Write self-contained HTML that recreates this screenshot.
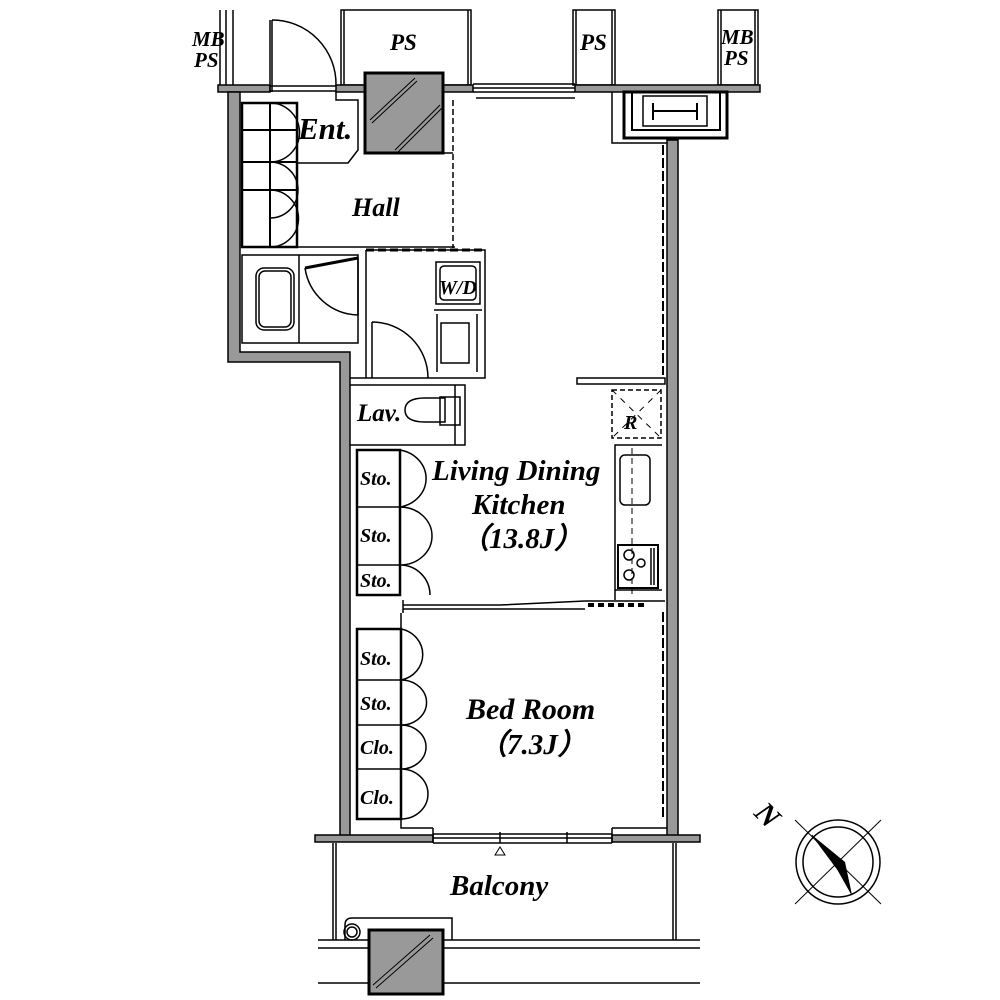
<!DOCTYPE html>
<html><head><meta charset="utf-8"><style>
html,body{margin:0;padding:0;background:#fff}
svg{display:block}
text{font-family:"Liberation Serif",serif;font-weight:bold;font-style:italic;fill:#000}
</style></head><body>
<svg width="1000" height="1000" viewBox="0 0 1000 1000" xmlns="http://www.w3.org/2000/svg">
<g fill="none" stroke="#000" stroke-width="1.5">
<path d="M220 10 V85 M233 10 V85 M226 10 V85"/>
<rect x="341" y="10" width="130" height="75"/><path d="M344 10 V85 M468 10 V85"/>
<rect x="573" y="10" width="42" height="75"/><path d="M576 10 V85 M612 10 V85"/>
<rect x="718" y="10" width="40" height="75"/><path d="M721 10 V85 M755 10 V85"/>
</g>
<g stroke="#000" stroke-width="1.5" fill="#999">
<rect x="218" y="85" width="52" height="7"/>
<rect x="336" y="85" width="30" height="7"/>
<rect x="443" y="85" width="30" height="7"/>
<rect x="575" y="85" width="185" height="7"/>
</g>
<g fill="none" stroke="#000" stroke-width="1.5">
<path d="M270 86 H336 M270 91 H336"/>
<path d="M473 84 H575 M473 88 H575 M473 92 H575 M476 98 H575"/>
<path d="M270 92 V20 M272 92 V20"/>
<path d="M272 20 A64 64 0 0 1 336 85"/>
<rect x="624" y="92" width="103" height="46" stroke-width="3"/>
<rect x="632" y="92" width="88" height="38" stroke-width="2"/>
<rect x="643" y="96" width="64" height="30"/>
<path d="M653 103 V120 M697 103 V120 M653 111 H697" stroke-width="2"/>
<path d="M612 92 V143 H667"/>
</g>
<rect x="365" y="73" width="78" height="80" fill="#999" stroke="#000" stroke-width="3"/>
<g stroke="#000" stroke-width="1"><path d="M370 120 L415 78 M372 123 L417 81 M395 150 L440 105 M397 153 L442 108"/></g>
<g fill="#999" stroke="#000" stroke-width="1.5">
<path d="M228 92 H240 V352 H350 V838 H340 V362 H228 Z"/>
<rect x="667" y="140" width="11" height="698"/>
<rect x="315" y="835" width="118" height="7"/>
<rect x="612" y="835" width="88" height="7"/>
</g>
<g fill="none" stroke="#000" stroke-width="1.5">
<path d="M433 834 H612 M433 838 H612 M433 843 H612"/>
<path d="M433 828 V843 M612 828 V843 M500 832 V843 M567 832 V843"/>
<path d="M495 855 L500 847 L505 855 Z" stroke-width="1"/>
<path d="M333 843 V940 M336 843 V940 M673 843 V940 M676 843 V940"/>
<path d="M318 940 H700 M318 948 H700 M318 983 H700"/>
<path d="M345 940 V925 Q345 918 352 918 H452 V940"/>
<circle cx="352" cy="932" r="8"/><circle cx="352" cy="932" r="5"/>
<rect x="242" y="103" width="55" height="144" stroke-width="2.5"/>
<path d="M270 103 V247 M242 130 H297 M242 162 H297 M242 190 H297" stroke-width="2"/>
<path d="M270 103 A27 27 0 0 1 270 162 M270 162 A27 27 0 0 1 270 218 M270 190 A27 27 0 0 1 270 247"/>
<path d="M336 92 V100 H358 V150 L348 163 H297"/>
<path d="M242 247 H455"/>
<path d="M453 100 V248" stroke-dasharray="6 3"/>
<path d="M443 153 H453"/>
<rect x="242" y="255" width="116" height="88"/>
<path d="M299 255 V343"/>
<rect x="256" y="268" width="38" height="62" rx="8"/>
<rect x="259" y="271" width="32" height="56" rx="6"/>
<path d="M305 268 L358 258" stroke-width="3"/>
<path d="M305 268 A55 55 0 0 0 358 315 M358 258 V315" stroke-width="1.5"/>
<path d="M366 250 H485 V378 H350 M366 250 V378"/>
<path d="M366 250 H485" stroke-width="3" stroke-dasharray="8 4"/>
<rect x="436" y="262" width="44" height="42"/>
<rect x="440" y="266" width="36" height="34" rx="4"/>
<path d="M434 310 H482 M437 314 V372 M477 314 V372"/>
<rect x="441" y="323" width="28" height="40"/>
<path d="M372 322 V378 M372 322 A56 56 0 0 1 428 378"/>
<path d="M350 385 H465 V445 H350"/>
<path d="M455 385 V445"/>
<path d="M445 398 H425 Q405 398 405 410 Q405 422 425 422 H445 Z"/>
<rect x="440" y="397" width="20" height="28"/>
<rect x="357" y="450" width="43" height="145" stroke-width="2.5"/>
<path d="M357 507 H400 M357 565 H400"/>
<path d="M400 450 A32 29 0 0 1 400 507 M400 507 A32 29 0 0 1 400 565 M400 565 A30 30 0 0 1 430 595"/>
<path d="M403 600 V613 M403 605 H500 L585 601 H665 M403 609 H585"/>
<path d="M588 605 H645" stroke-width="4" stroke-dasharray="6 4"/>
<path d="M577 378 H665 V384 H577 Z"/>
<rect x="612" y="390" width="49" height="48" stroke-dasharray="5 3"/>
<path d="M612 390 L661 438 M661 390 L612 438" stroke-dasharray="6 6" stroke-width="1"/>
<path d="M615 600 V445 H662 M615 590 H662"/>
<rect x="620" y="455" width="30" height="50" rx="5"/>
<path d="M632 448 V595" stroke-dasharray="6 4" stroke-width="1"/>
<rect x="618" y="545" width="40" height="43" stroke-width="2"/>
<circle cx="629" cy="555" r="5"/><circle cx="641" cy="563" r="4"/><circle cx="629" cy="575" r="5"/>
<path d="M651 548 V585 M654 548 V585"/>
<path d="M663 145 V375 M663 612 V820" stroke-dasharray="10 3" stroke-width="2"/>
<rect x="357" y="629" width="44" height="190" stroke-width="2.5"/>
<path d="M357 680 H401 M357 725 H401 M357 769 H401"/>
<path d="M401 629 A27 26 0 0 1 401 680 M401 680 A25 22 0 0 1 401 725 M401 725 A25 22 0 0 1 401 769 M401 769 A27 25 0 0 1 401 819"/>
<path d="M401 613 V629 M401 819 V828 H433"/>
<path d="M612 828 H667"/>
<circle cx="838" cy="862" r="42"/>
<circle cx="838" cy="862" r="35"/>
<path d="M795 820 L881 904 M795 904 L881 820" stroke-width="1"/>
</g>
<rect x="369" y="930" width="74" height="64" fill="#999" stroke="#000" stroke-width="3"/>
<g stroke="#000" stroke-width="1"><path d="M373 985 L430 935 M376 988 L433 938"/></g>
<path d="M812 835 L845 862 L852 895 L838 870 Z" fill="#000"/>
<path d="M812 835 L838 870 L852 895" fill="none" stroke="#000" stroke-width="1"/>
<text x="758" y="828" font-size="30" transform="rotate(45 772 815)">N</text>
<text x="192" y="46" font-size="21">MB</text>
<text x="194" y="67" font-size="21">PS</text>
<text x="390" y="50" font-size="23">PS</text>
<text x="580" y="50" font-size="23">PS</text>
<text x="721" y="44" font-size="21">MB</text>
<text x="724" y="65" font-size="21">PS</text>
<text x="298" y="139" font-size="31">Ent.</text>
<text x="352" y="216" font-size="26">Hall</text>
<text x="439" y="294" font-size="20">W/D</text>
<text x="357" y="421" font-size="25">Lav.</text>
<text x="624" y="429" font-size="20">R</text>
<text x="360" y="485" font-size="20">Sto.</text>
<text x="360" y="542" font-size="20">Sto.</text>
<text x="360" y="587" font-size="20">Sto.</text>
<text x="360" y="665" font-size="20">Sto.</text>
<text x="360" y="710" font-size="20">Sto.</text>
<text x="360" y="754" font-size="20">Clo.</text>
<text x="360" y="804" font-size="20">Clo.</text>
<text x="432" y="480" font-size="29">Living Dining</text>
<text x="472" y="514" font-size="29">Kitchen</text>
<text x="460" y="548" font-size="29">（13.8J）</text>
<text x="466" y="719" font-size="30">Bed Room</text>
<text x="478" y="754" font-size="29">（7.3J）</text>
<text x="450" y="895" font-size="29">Balcony</text>
</svg>
</body></html>
